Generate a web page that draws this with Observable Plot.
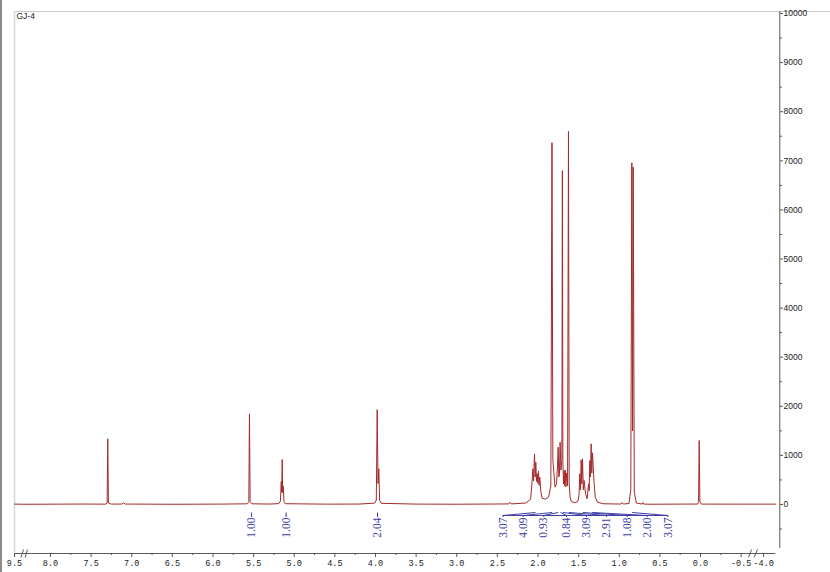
<!DOCTYPE html>
<html>
<head>
<meta charset="utf-8">
<script src="https://cdn.jsdelivr.net/npm/d3@7"></script>
<script src="https://cdn.jsdelivr.net/npm/@observablehq/plot@0.6"></script>
<style>
  html, body { margin: 0; padding: 0; background: #fff; }
  #wrap { position: relative; width: 830px; height: 572px; overflow: hidden; }
  #edge { position: absolute; left: 0; top: 0; width: 2px; height: 572px; background: #8c8c8c; }
</style>
</head>
<body>
<div id="wrap"><div id="edge"></div></div>
<script>
// ---- data ----
const sampleName = "GJ-4";

// spectrum vertices: chemical shift (ppm) and intensity
const shift = [
  9.50, 8.40, 7.60, 7.32, 7.303, 7.295, 7.287, 7.25, 7.12, 7.10, 7.08, 6.50, 5.90,
  5.58, 5.559, 5.551, 5.543, 5.52, 5.30, 5.19, 5.170, 5.160, 5.154, 5.148, 5.142, 5.136, 5.126, 5.11,
  4.60, 4.20, 4.01, 3.990, 3.979, 3.969, 3.959, 3.949, 3.93, 3.50, 3.00, 2.60, 2.36, 2.345, 2.33,
  2.15, 2.09, 2.075, 2.063, 2.055, 2.043, 2.035, 2.027, 2.018, 2.010, 2.002, 1.994, 1.986, 1.978, 1.965, 1.95,
  1.91, 1.87, 1.842, 1.828, 1.817, 1.79, 1.772, 1.760, 1.752, 1.744, 1.736, 1.728, 1.718, 1.706, 1.700, 1.694,
  1.686, 1.679, 1.672, 1.664, 1.656, 1.648, 1.636, 1.625, 1.616, 1.605, 1.59, 1.55, 1.51,
  1.495, 1.485, 1.477, 1.469, 1.461, 1.452, 1.442, 1.432, 1.415, 1.395, 1.378, 1.370, 1.362, 1.354, 1.346,
  1.338, 1.329, 1.313, 1.296, 1.27, 1.20, 0.98, 0.964, 0.95, 0.88, 0.858, 0.845, 0.836, 0.828, 0.815, 0.79,
  0.72, 0.710, 0.70, 0.60, 0.035, 0.024, 0.016, 0.008, -0.01, -0.50, -4.15
];
const intensity = [
  8, 5, 9, 7, 30, 1338, 30, 8, 9, 32, 9, 5, 8,
  14, 60, 1847, 60, 14, 9, 18, 70, 468, 250, 916, 240, 373, 60, 16,
  7, 9, 28, 90, 1929, 427, 727, 80, 24, 8, 6, 9, 12, 45, 12,
  30, 110, 420, 727, 480, 1032, 560, 862, 470, 625, 430, 679, 390, 556, 260, 130,
  110, 150, 380, 7370, 900, 353, 420, 800, 1167, 560, 620, 1269, 700, 900, 6800, 900,
  420, 692, 380, 700, 360, 640, 380, 7600, 420, 150, 60, 35, 60,
  200, 625, 300, 910, 420, 930, 300, 489, 217, 115, 421, 280, 896, 560, 1236,
  640, 1052, 523, 150, 50, 15, 9, 40, 9, 20, 300, 6959, 1500, 6870, 250, 30,
  8, 40, 8, 6, 9, 60, 1303, 60, 8, 7, 7
];

// integrals: label text, where the label sits, where its region is
const integralLabels = ["1.00", "1.00", "2.04", "3.07", "4.09", "0.93", "0.84", "3.09", "2.91", "1.08", "2.00", "3.07"];
const integralLabelAt = [5.525, 5.10, 3.975, 2.429, 2.182, 1.929, 1.649, 1.403, 1.157, 0.902, 0.656, 0.402];
const integralRegionAt = [5.525, 5.10, 3.975, 2.031, 1.825, 1.751, 1.723, 1.695, 1.621, 1.449, 1.333, 0.841];
const bracketSpan = [2.429, 0.402];

// axis ticks
const xMajor = [9.5, 8.0, 7.5, 7.0, 6.5, 6.0, 5.5, 5.0, 4.5, 4.0, 3.5, 3.0, 2.5, 2.0, 1.5, 1.0, 0.5, 0.0, -0.5, -4.0];
const xMinor = [7.75, 7.25, 6.75, 6.25, 5.75, 5.25, 4.75, 4.25, 3.75, 3.25, 2.75, 2.25, 1.75, 1.25, 0.75, 0.25, -0.25];
const yMajor = [0, 1000, 2000, 3000, 4000, 5000, 6000, 7000, 8000, 9000, 10000];
const yMinor = [-500, 500, 1500, 2500, 3500, 4500, 5500, 6500, 7500, 8500, 9500];

// axis breaks (ppm pairs for the little slashes)
const breakX1 = [9.42, 8.63, -0.591, -2.66];
const breakX2 = [9.117, 8.283, -0.628, -3.926];

// ---- layout constants ----
const yFloor = -998, yTop = 10041, yAxisBottom = -896;
const xLeft = 9.5, xAxisEnd = -4.15, xRightAxis = -4.2, xFarRight = -4.83;
const red = "#a32a2a", blue = "#3d3da5", axisGray = "#5a5a5a";

const n = shift.length;

const chart = Plot.plot({
  width: 830,
  height: 572,
  marginLeft: 14,
  marginRight: 51,
  marginTop: 11,
  marginBottom: 19,
  style: { fontFamily: "Liberation Sans", fontSize: "8px", color: "#222", background: "white", overflow: "visible" },
  x: { type: "linear", domain: [9.5, 9.4, 8.3, -0.63, -3.9, -4.2], range: [14, 22.1, 25.6, 751.2, 754.9, 779.3] },
  y: { type: "linear", domain: [yFloor, yTop] },
  marks: [
    // frame lines
    Plot.ruleY([yTop], { x1: xLeft, x2: xFarRight, stroke: "#c8c8c8", strokeWidth: 1 }),
    Plot.ruleX([xLeft], { y1: yFloor, y2: yTop, stroke: "#d6d6d6", strokeWidth: 1.5 }),
    // spectrum
    Plot.line({ length: n }, { x: shift, y: intensity, stroke: red, strokeWidth: 1, strokeLinejoin: "miter" }),
    // integrals
    Plot.ruleY([-224], { x1: bracketSpan[0], x2: bracketSpan[1], stroke: blue, strokeWidth: 1 }),
    Plot.link({ length: integralLabels.length }, { x1: integralRegionAt, y1: -163, x2: integralLabelAt, y2: -224, stroke: blue, strokeWidth: 1 }),
    Plot.ruleX(integralLabelAt, { y1: -224, y2: -265, stroke: blue, strokeWidth: 1 }),
    Plot.text(integralLabels, { x: integralLabelAt, y: -265, text: d => d, rotate: -90, textAnchor: "end", fill: blue, fontFamily: "Liberation Serif", fontSize: 11.5 }),
    // sample name
    Plot.text([sampleName], { frameAnchor: "top-left", text: d => d, dx: 2, dy: 1, lineAnchor: "top", textAnchor: "start", fontFamily: "Liberation Sans", fontSize: 8.5, fill: "#222" }),
    // x axis
    Plot.ruleY([yFloor], { x1: xLeft, x2: xAxisEnd, stroke: axisGray, strokeWidth: 1 }),
    Plot.axisX({ ticks: xMajor, tickSize: 4, tickPadding: 2, label: null, tickFormat: d => d.toFixed(1), fontFamily: "Liberation Mono", fontSize: 8.5, stroke: axisGray }),
    Plot.axisX({ ticks: xMinor, tickSize: 2, tickPadding: 0, label: null, tickFormat: () => "", stroke: axisGray }),
    Plot.link({ length: breakX1.length }, { x1: breakX1, y1: yFloor - 80, x2: breakX2, y2: yFloor + 80, stroke: axisGray, strokeWidth: 1 }),
    // y axis (right)
    Plot.ruleX([xRightAxis], { y1: yAxisBottom, y2: yTop, stroke: axisGray, strokeWidth: 1 }),
    Plot.axisY({ anchor: "right", ticks: yMajor, tickSize: 3, tickPadding: 1, label: null, tickFormat: d => String(d), fontFamily: "Liberation Sans", fontSize: 8.5, stroke: axisGray }),
    Plot.axisY({ anchor: "right", ticks: yMinor, tickSize: 2, tickPadding: 0, label: null, tickFormat: () => "", stroke: axisGray })
  ]
});

document.getElementById("wrap").appendChild(chart);
</script>
</body>
</html>
